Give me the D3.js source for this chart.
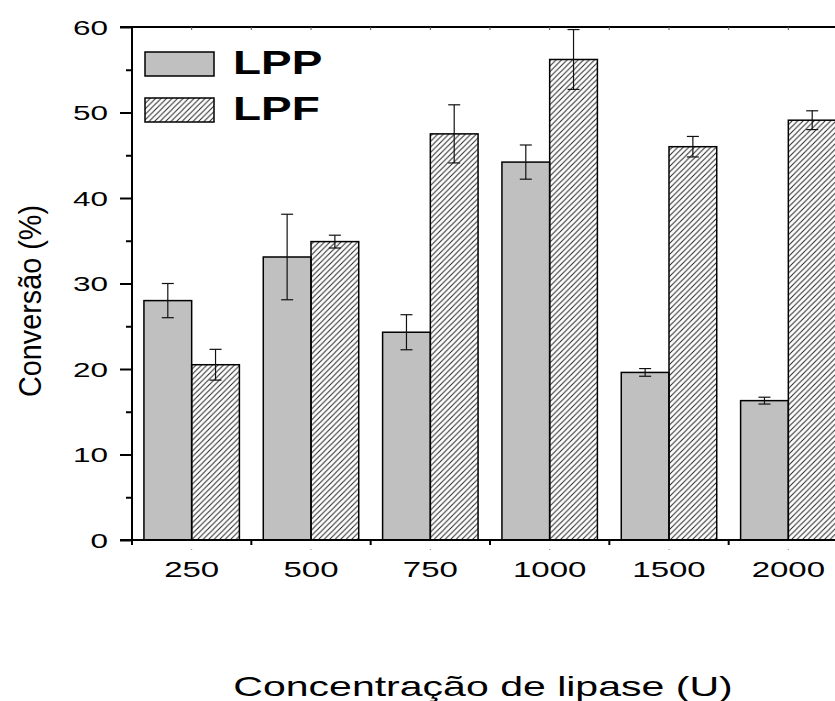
<!DOCTYPE html>
<html>
<head>
<meta charset="utf-8">
<script src="https://cdn.jsdelivr.net/npm/d3@7"></script>
<style>
  body { margin: 0; background: #fff; }
  text { font-family: "Liberation Sans", Arial, sans-serif; fill: #000; }
</style>
</head>
<body>
<svg id="chart" width="835" height="701"></svg>
<script>
// data
let categories = ["250", "500", "750", "1000", "1500", "2000"];
let series = ["LPP", "LPF"];
let lppValues = [28.0, 33.1, 24.3, 44.2, 19.6, 16.3];
let lppErrors = [2.0, 5.0, 2.05, 2.0, 0.45, 0.4];
let lpfValues = [20.5, 34.9, 47.5, 56.2, 46.0, 49.1];
let lpfErrors = [1.8, 0.75, 3.4, 3.5, 1.2, 1.1];
let yTicks = [0, 10, 20, 30, 40, 50, 60];

let svg = d3.select("#chart");

let margin = {left: 132, top: 27, right: 848, bottom: 540};
// the original figure's lettering is stretched sideways
let stretch = 1.5;

// hatch pattern for LPF
let defs = svg.append("defs");
let pat = defs.append("pattern")
  .attr("id", "hatch")
  .attr("patternUnits", "userSpaceOnUse")
  .attr("width", 5.5)
  .attr("height", 5.5);
pat.append("path")
  .attr("d", "M-1,1 l2,-2 M0,5.5 l5.5,-5.5 M4.5,6.5 l2,-2")
  .attr("stroke", "#222")
  .attr("stroke-width", 1);

let x = d3.scaleBand()
  .domain(categories)
  .range([margin.left, margin.right])
  .paddingInner(0.2)
  .paddingOuter(0.1);

let xs = d3.scaleBand()
  .domain(series)
  .range([0, x.bandwidth()]);

let y = d3.scaleLinear()
  .domain([0, 60])
  .range([margin.bottom, margin.top]);

let rows = categories.map(function(c, i) {
  return [
    {cat: c, key: "LPP", value: lppValues[i], err: lppErrors[i]},
    {cat: c, key: "LPF", value: lpfValues[i], err: lpfErrors[i]}
  ];
}).flat();

// bars
svg.append("g").selectAll("rect")
  .data(rows)
  .enter().append("rect")
  .attr("x", d => x(d.cat) + xs(d.key))
  .attr("y", d => y(d.value))
  .attr("width", xs.bandwidth())
  .attr("height", d => y(0) - y(d.value))
  .attr("fill", d => d.key === "LPP" ? "#c0c0c0" : "url(#hatch)")
  .attr("stroke", "#000")
  .attr("stroke-width", 1.5);

// error bars
let eb = svg.append("g").selectAll("g")
  .data(rows)
  .enter().append("g")
  .attr("stroke", "#111")
  .attr("stroke-width", 1.2);
let cx = d => x(d.cat) + xs(d.key) + xs.bandwidth() / 2;
eb.append("line")
  .attr("x1", cx).attr("x2", cx)
  .attr("y1", d => y(d.value + d.err))
  .attr("y2", d => y(d.value - d.err));
eb.append("line")
  .attr("x1", d => cx(d) - 6).attr("x2", d => cx(d) + 6)
  .attr("y1", d => y(d.value + d.err))
  .attr("y2", d => y(d.value + d.err));
eb.append("line")
  .attr("x1", d => cx(d) - 6).attr("x2", d => cx(d) + 6)
  .attr("y1", d => y(d.value - d.err))
  .attr("y2", d => y(d.value - d.err));

// left axis
let yAxis = svg.append("g")
  .attr("transform", "translate(" + margin.left + ",0)")
  .call(d3.axisLeft(y).tickValues(yTicks).tickSize(12).tickFormat(""));
yAxis.select(".domain").remove();
yAxis.selectAll("line").attr("stroke-width", 2);

svg.append("g").selectAll("text")
  .data(yTicks)
  .enter().append("text")
  .attr("transform", d => "translate(108," + (y(d) + 7.5) + ") scale(" + stretch + ",1)")
  .attr("text-anchor", "end")
  .style("font-size", "21px")
  .text(d => d);

svg.append("g")
  .attr("transform", "translate(" + margin.left + ",0)")
  .call(d3.axisLeft(y).tickValues(d3.range(5, 60, 10)).tickSize(6).tickFormat(""))
  .call(g => g.select(".domain").remove())
  .selectAll("line").attr("stroke-width", 2);

svg.append("line")
  .attr("x1", margin.left).attr("x2", margin.left)
  .attr("y1", margin.top - 1).attr("y2", margin.bottom + 5)
  .attr("stroke", "#000").attr("stroke-width", 2);

// bottom axis
let step = x.step();
let bounds = categories.map(c => x(c) - step * 0.1).concat([margin.right]);
svg.append("line")
  .attr("x1", margin.left - 12).attr("x2", 835)
  .attr("y1", y(0)).attr("y2", y(0))
  .attr("stroke", "#000").attr("stroke-width", 2);
svg.append("g").selectAll("line")
  .data(bounds)
  .enter().append("line")
  .attr("x1", d => d).attr("x2", d => d)
  .attr("y1", y(0)).attr("y2", y(0) + 5)
  .attr("stroke", "#000").attr("stroke-width", 2);
svg.append("g").selectAll("line")
  .data(categories)
  .enter().append("line")
  .attr("x1", d => x(d) + x.bandwidth() / 2).attr("x2", d => x(d) + x.bandwidth() / 2)
  .attr("y1", y(0) + 9).attr("y2", y(0) + 10)
  .attr("stroke", "#888").attr("stroke-width", 1);
svg.append("g").selectAll("text")
  .data(categories)
  .enter().append("text")
  .attr("transform", d => "translate(" + (x(d) + x.bandwidth() / 2) + "," + (y(0) + 37) + ") scale(" + stretch + ",1)")
  .attr("text-anchor", "middle")
  .style("font-size", "22px")
  .text(d => d);

// top axis
svg.append("line")
  .attr("x1", margin.left - 12).attr("x2", 835)
  .attr("y1", y(60)).attr("y2", y(60))
  .attr("stroke", "#000").attr("stroke-width", 2);
svg.append("g").selectAll("line")
  .data(d3.range(1, 12).map(k => margin.left + k * step / 2))
  .enter().append("line")
  .attr("x1", d => d).attr("x2", d => d)
  .attr("y1", y(60)).attr("y2", y(60) + 3)
  .attr("stroke", "#555").attr("stroke-width", 1);

// legend
let legend = svg.append("g");
let legendItems = legend.selectAll("g")
  .data(series)
  .enter().append("g")
  .attr("transform", (d, i) => "translate(145," + (52 + i * 46) + ")");
legendItems.append("rect")
  .attr("width", 69).attr("height", 24)
  .attr("fill", d => d === "LPP" ? "#c0c0c0" : "url(#hatch)")
  .attr("stroke", "#000").attr("stroke-width", 1.5);
legendItems.append("text")
  .attr("transform", "translate(88,22) scale(1.35,1)")
  .style("font-size", "34px")
  .style("font-weight", "bold")
  .text(d => d);

// axis titles
svg.append("text")
  .attr("transform", "translate(41,301) rotate(-90)")
  .attr("text-anchor", "middle")
  .attr("textLength", 192)
  .attr("lengthAdjust", "spacingAndGlyphs")
  .style("font-size", "31px")
  .text("Conversão (%)");

svg.append("text")
  .attr("transform", "translate(483,696) scale(1.52,1)")
  .attr("text-anchor", "middle")
  .style("font-size", "27px")
  .text("Concentração de lipase (U)");
</script>
</body>
</html>
